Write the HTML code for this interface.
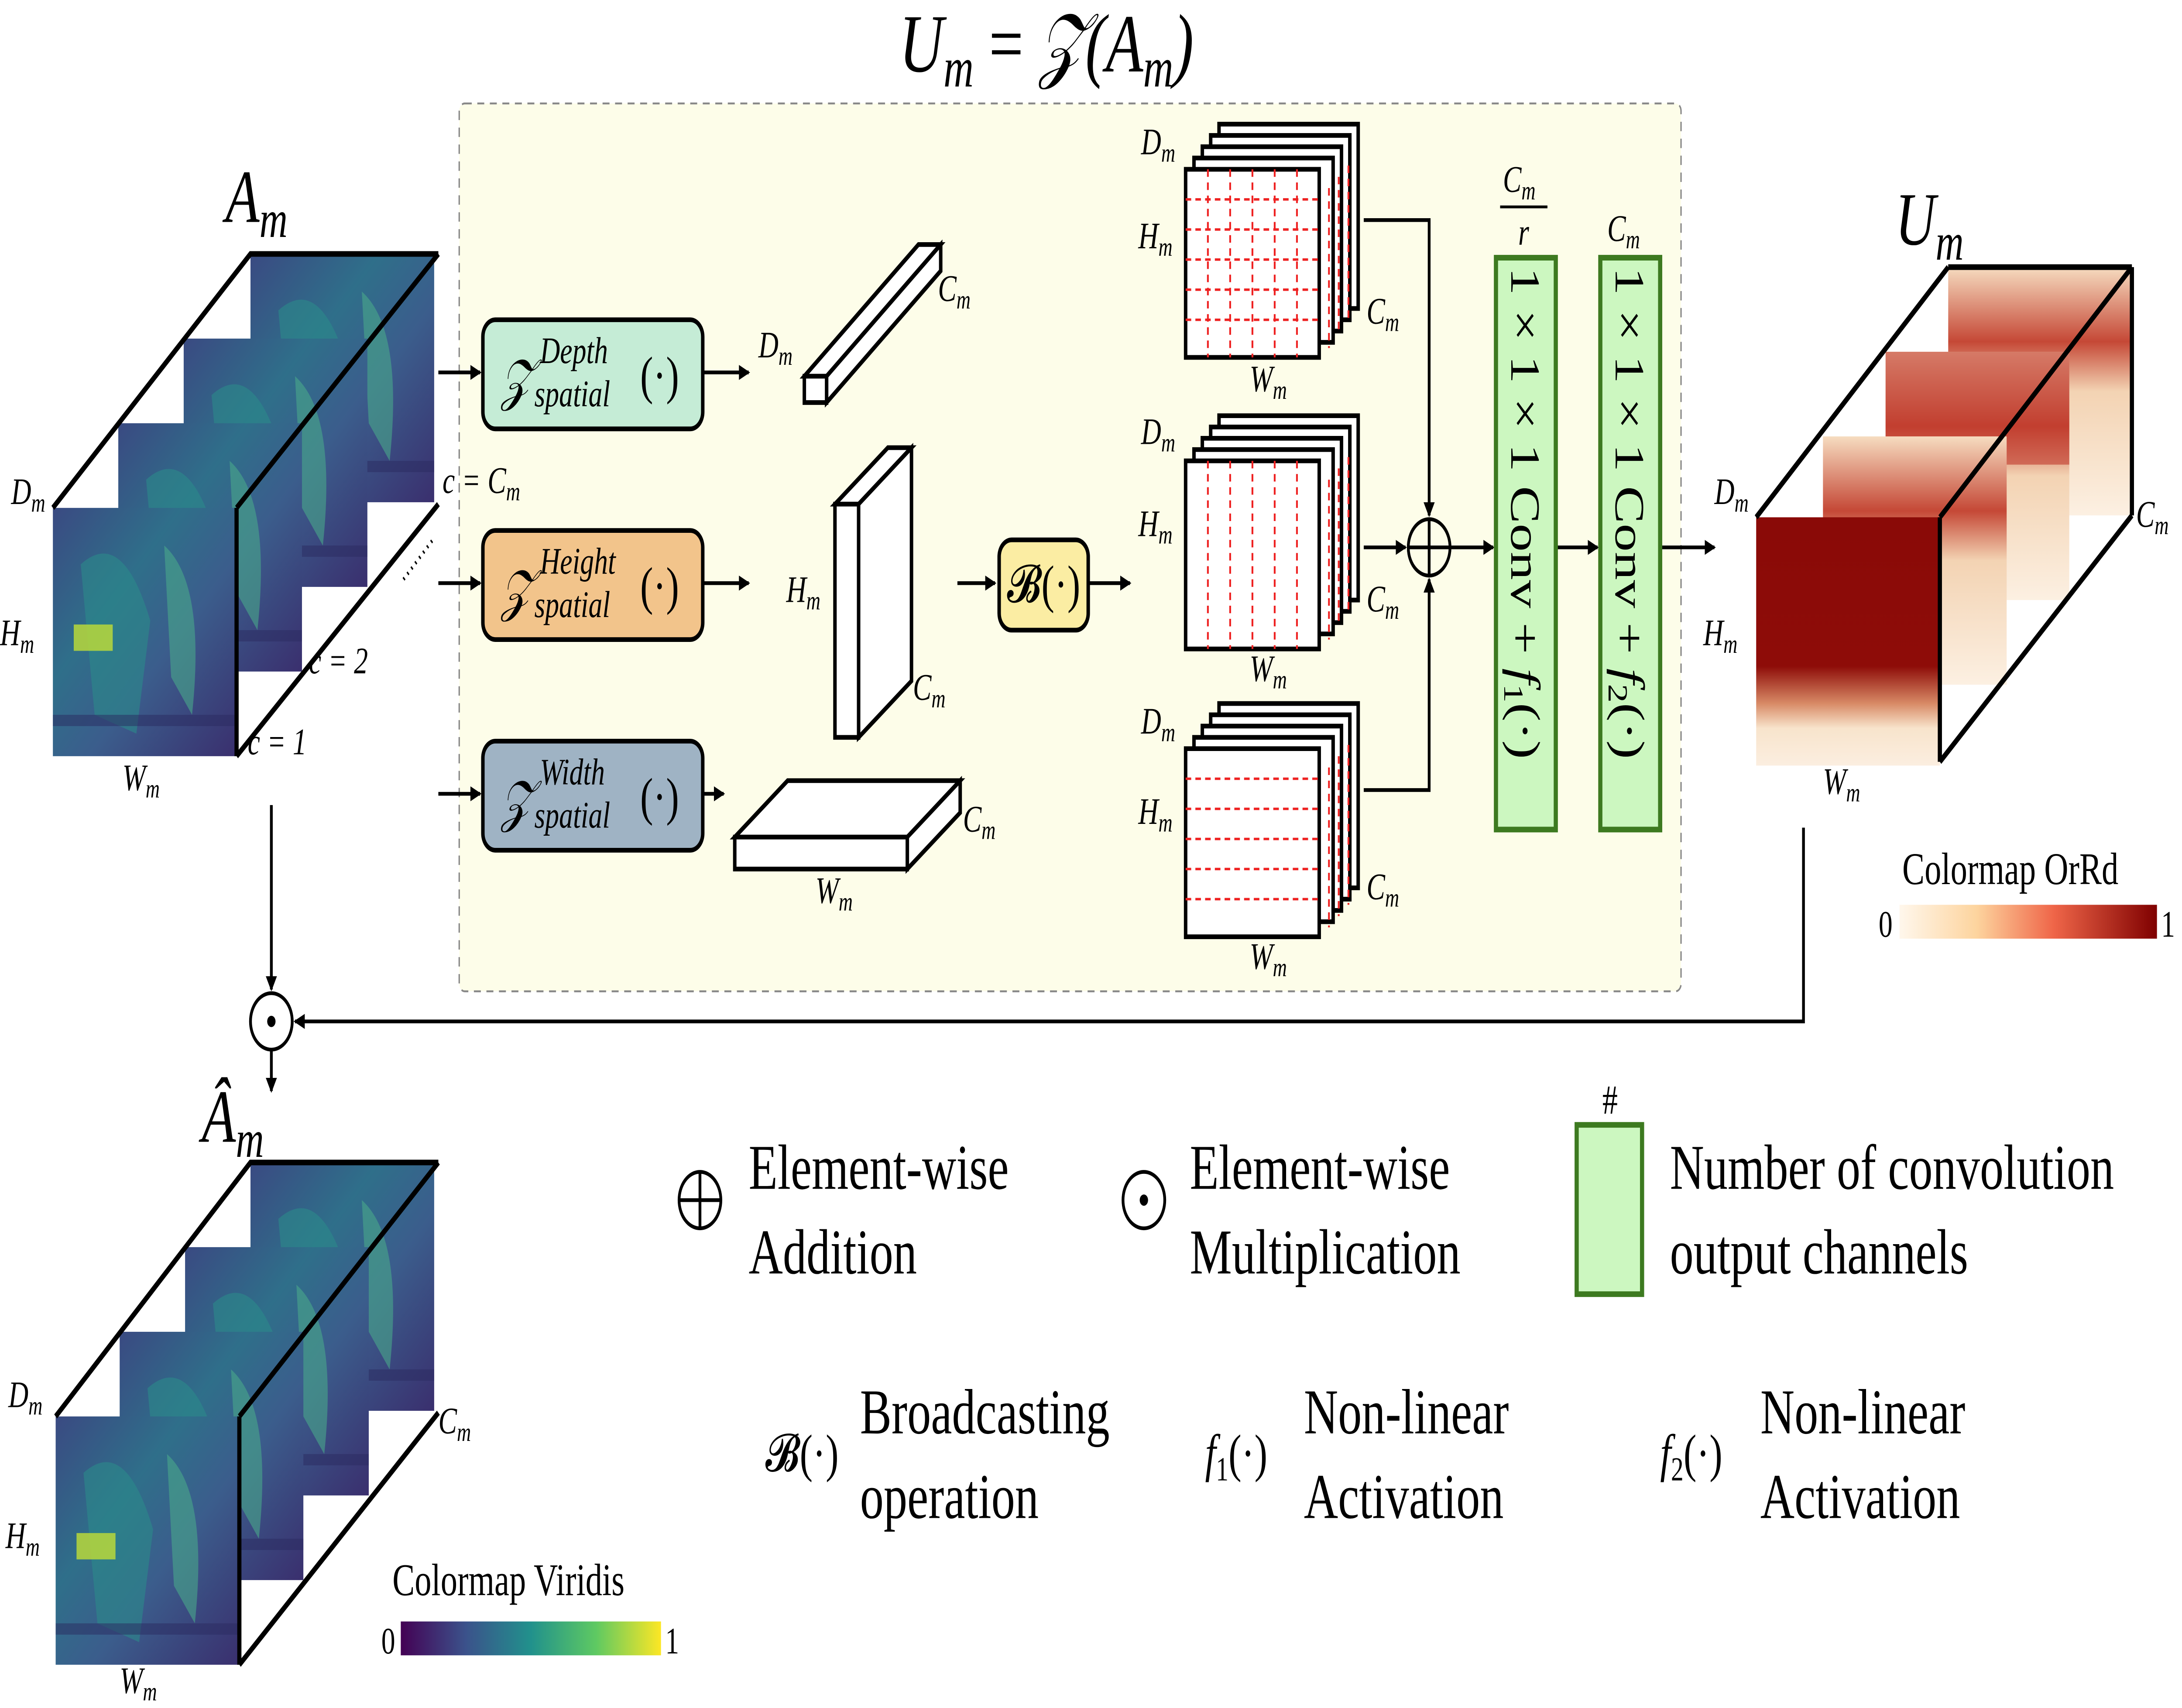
<!DOCTYPE html>
<html><head><meta charset="utf-8"><style>
html,body{margin:0;padding:0;background:#fff;overflow:hidden;width:100vw;height:100vh}
svg{display:block;width:100vw;height:100vh}
text{font-family:"Liberation Serif",serif}
</style></head><body>
<svg viewBox="0 0 1568 908" preserveAspectRatio="none" xmlns="http://www.w3.org/2000/svg">
<defs>
<linearGradient id="vir" x1="0" y1="0" x2="1" y2="1">
<stop offset="0" stop-color="#3a4a82"/><stop offset="0.35" stop-color="#2f6f8a"/><stop offset="0.6" stop-color="#3b5d8c"/><stop offset="1" stop-color="#3a2f6e"/></linearGradient>
<linearGradient id="orr" x1="0" y1="0" x2="0" y2="1">
<stop offset="0" stop-color="#8a0a07"/><stop offset="0.6" stop-color="#8e0c08"/><stop offset="0.75" stop-color="#d88a66"/><stop offset="0.85" stop-color="#f8e4cc"/><stop offset="1" stop-color="#fbeee0"/></linearGradient>
<linearGradient id="orr2" x1="0" y1="0" x2="0" y2="1">
<stop offset="0" stop-color="#f6dcc0"/><stop offset="0.3" stop-color="#c54836"/><stop offset="0.5" stop-color="#f3d3b3"/><stop offset="1" stop-color="#fcf0e2"/></linearGradient>
<linearGradient id="cbv" x1="0" x2="1"><stop offset="0" stop-color="#440154"/><stop offset="0.25" stop-color="#3b528b"/><stop offset="0.5" stop-color="#21918c"/><stop offset="0.75" stop-color="#5ec962"/><stop offset="1" stop-color="#fde725"/></linearGradient>
<linearGradient id="cbo" x1="0" x2="1"><stop offset="0" stop-color="#fff7ec"/><stop offset="0.3" stop-color="#fdd49e"/><stop offset="0.6" stop-color="#ef6548"/><stop offset="1" stop-color="#7f0000"/></linearGradient>
<marker id="ar" markerWidth="8" markerHeight="8" refX="7" refY="4" orient="auto" markerUnits="userSpaceOnUse"><path d="M0,0 L8,4 L0,8 z" fill="#000"/></marker>
<g id="vslice"><rect width="132" height="132" fill="url(#vir)"/><path d="M20,30 Q50,10 70,60 L60,120 L30,110 Z" fill="#2c8a8a" opacity="0.6"/><path d="M80,20 Q110,40 100,110 L85,90 Z" fill="#4aa88a" opacity="0.6"/><rect x="15" y="62" width="28" height="14" fill="#b8d83a" opacity="0.85"/><rect x="0" y="110" width="132" height="6" fill="#2a2a60" opacity="0.5"/></g>
</defs>

<text x="752" y="38" font-size="44" text-anchor="middle" font-style="italic">U<tspan font-size="30" dy="8">m</tspan><tspan dy="-8" font-style="normal"> = </tspan>𝒵(A<tspan font-size="30" dy="8">m</tspan><tspan dy="-8">)</tspan></text>

<rect x="330" y="55" width="878" height="472" rx="4" fill="#fdfde9" stroke="#888" stroke-dasharray="5,4"/>

<use href="#vslice" x="180" y="135"/><use href="#vslice" x="132" y="180"/><use href="#vslice" x="85" y="225"/><use href="#vslice" x="38" y="270"/>
<g stroke="#000" stroke-width="3" fill="none"><path d="M38,270 L180,135 L315,135 M170,270 L315,135 M170,402 L315,268 M170,270 L170,402"/></g>
<text x="162" y="118" font-size="40" font-style="italic">A<tspan font-size="28" dy="8">m</tspan></text>
<g font-size="20" font-style="italic"><text x="8" y="268">D<tspan font-size="14" dy="4">m</tspan></text><text x="0" y="343">H<tspan font-size="14" dy="4">m</tspan></text><text x="88" y="420">W<tspan font-size="14" dy="4">m</tspan></text><text x="318" y="262">c = C<tspan font-size="14" dy="4">m</tspan></text><text x="222" y="358">c = 2</text><text x="178" y="401">c = 1</text></g>
<path d="M290,308 L312,286" stroke="#000" stroke-width="2" stroke-dasharray="1,3"/>

<g stroke="#000" stroke-width="2" marker-end="url(#ar)"><line x1="315" y1="198" x2="345" y2="198"/><line x1="315" y1="310" x2="345" y2="310"/><line x1="315" y1="422" x2="345" y2="422"/>
<line x1="506" y1="198" x2="538" y2="198"/><line x1="506" y1="310" x2="538" y2="310"/><line x1="506" y1="422" x2="520" y2="422"/>
<line x1="688" y1="310" x2="715" y2="310"/><line x1="783" y1="310" x2="812" y2="310"/></g>

<rect x="347" y="170" width="158" height="58" rx="9" fill="#c5ecd6" stroke="#000" stroke-width="2.5"/>
<rect x="347" y="282" width="158" height="58" rx="9" fill="#f2c48b" stroke="#000" stroke-width="2.5"/>
<rect x="347" y="394" width="158" height="58" rx="9" fill="#9fb3c4" stroke="#000" stroke-width="2.5"/>
<g font-style="italic"><text x="360" y="212" font-size="30">𝒵</text><text x="388" y="193" font-size="20">Depth</text><text x="384" y="216" font-size="20">spatial</text><text x="460" y="209" font-size="28" font-style="normal">(·)</text>
<text x="360" y="324" font-size="30">𝒵</text><text x="388" y="305" font-size="20">Height</text><text x="384" y="328" font-size="20">spatial</text><text x="460" y="321" font-size="28" font-style="normal">(·)</text>
<text x="360" y="436" font-size="30">𝒵</text><text x="388" y="417" font-size="20">Width</text><text x="384" y="440" font-size="20">spatial</text><text x="460" y="433" font-size="28" font-style="normal">(·)</text></g>

<g fill="#fff" stroke="#000" stroke-width="2.5">
<path d="M578,200 L660,130 L676,130 L594,200 Z"/><path d="M594,200 L676,130 L676,144 L594,214 Z"/><rect x="578" y="200" width="16" height="14"/>
<path d="M600,268 L638,238 L655,238 L617,268 Z"/><path d="M617,268 L655,238 L655,362 L617,392 Z"/><rect x="600" y="268" width="17" height="124"/>
<path d="M528,445 L566,415 L690,415 L652,445 Z"/><path d="M652,445 L690,415 L690,432 L652,462 Z"/><rect x="528" y="445" width="124" height="17"/>
</g>
<g font-size="20" font-style="italic"><text x="545" y="190">D<tspan font-size="14" dy="4">m</tspan></text><text x="674" y="160">C<tspan font-size="14" dy="4">m</tspan></text><text x="565" y="320">H<tspan font-size="14" dy="4">m</tspan></text><text x="656" y="372">C<tspan font-size="14" dy="4">m</tspan></text><text x="692" y="442">C<tspan font-size="14" dy="4">m</tspan></text><text x="586" y="480">W<tspan font-size="14" dy="4">m</tspan></text></g>

<rect x="718" y="287" width="64" height="48" rx="9" fill="#fbeda3" stroke="#000" stroke-width="2.5"/>
<text x="750" y="320" font-size="28" text-anchor="middle">𝓑(·)</text>

<g stroke="#000" stroke-width="2.5" fill="#fff">
<rect x="876" y="66" width="100" height="98"/><rect x="870" y="72" width="100" height="98"/><rect x="864" y="78" width="100" height="98"/><rect x="858" y="84" width="100" height="98"/><rect x="852" y="90" width="96" height="100"/>
<rect x="876" y="221" width="100" height="98"/><rect x="870" y="227" width="100" height="98"/><rect x="864" y="233" width="100" height="98"/><rect x="858" y="239" width="100" height="98"/><rect x="852" y="245" width="96" height="100"/>
<rect x="876" y="374" width="100" height="98"/><rect x="870" y="380" width="100" height="98"/><rect x="864" y="386" width="100" height="98"/><rect x="858" y="392" width="100" height="98"/><rect x="852" y="398" width="96" height="100"/>
</g>
<g stroke="#e22" stroke-width="1.3" stroke-dasharray="4,3" fill="none">
<path d="M868,90V190M884,90V190M900,90V190M916,90V190M932,90V190M852,106H948M852,122H948M852,138H948M852,154H948M852,170H948"/>
<path d="M868,245V345M884,245V345M900,245V345M916,245V345M932,245V345"/>
<path d="M852,414H948M852,430H948M852,446H948M852,462H948M852,478H948"/>
<path d="M955,100V185M962,94V178M969,88V172M955,255V340M962,249V333M969,243V327M955,408V493M962,402V487M969,396V481"/>
</g>
<g font-size="20" font-style="italic">
<text x="820" y="82">D<tspan font-size="14" dy="4">m</tspan></text><text x="818" y="132">H<tspan font-size="14" dy="4">m</tspan></text><text x="982" y="172">C<tspan font-size="14" dy="4">m</tspan></text><text x="898" y="208">W<tspan font-size="14" dy="4">m</tspan></text>
<text x="820" y="236">D<tspan font-size="14" dy="4">m</tspan></text><text x="818" y="285">H<tspan font-size="14" dy="4">m</tspan></text><text x="982" y="325">C<tspan font-size="14" dy="4">m</tspan></text><text x="898" y="362">W<tspan font-size="14" dy="4">m</tspan></text>
<text x="820" y="390">D<tspan font-size="14" dy="4">m</tspan></text><text x="818" y="438">H<tspan font-size="14" dy="4">m</tspan></text><text x="982" y="478">C<tspan font-size="14" dy="4">m</tspan></text><text x="898" y="515">W<tspan font-size="14" dy="4">m</tspan></text></g>

<g stroke="#000" stroke-width="2" fill="none">
<path d="M980,117 H1027 V274" marker-end="url(#ar)"/><path d="M980,420 H1027 V308" marker-end="url(#ar)"/>
<line x1="980" y1="291" x2="1010" y2="291" marker-end="url(#ar)"/>
<circle cx="1027" cy="291" r="15"/><path d="M1012,291H1042M1027,276V306"/>
<line x1="1042" y1="291" x2="1073" y2="291" marker-end="url(#ar)"/>
<line x1="1118" y1="291" x2="1148" y2="291" marker-end="url(#ar)"/>
<line x1="1193" y1="291" x2="1232" y2="291" marker-end="url(#ar)"/>
</g>
<rect x="1075" y="137" width="43" height="304" fill="#ccf7c0" stroke="#3d7a20" stroke-width="3"/>
<rect x="1150" y="137" width="43" height="304" fill="#ccf7c0" stroke="#3d7a20" stroke-width="3"/>
<text transform="translate(1086,142) rotate(90)" font-size="30">1 × 1 × 1 Conv + <tspan font-style="italic">f</tspan><tspan font-size="20" dy="5">1</tspan><tspan dy="-5">(·)</tspan></text>
<text transform="translate(1161,142) rotate(90)" font-size="30">1 × 1 × 1 Conv + <tspan font-style="italic">f</tspan><tspan font-size="20" dy="5">2</tspan><tspan dy="-5">(·)</tspan></text>
<g font-size="20" font-style="italic"><text x="1080" y="102">C<tspan font-size="14" dy="4">m</tspan></text><line x1="1078" y1="110" x2="1112" y2="110" stroke="#000" stroke-width="1.5"/><text x="1091" y="130">r</text><text x="1155" y="128">C<tspan font-size="14" dy="4">m</tspan></text></g>

<rect x="1400" y="142" width="132" height="132" fill="url(#orr2)"/>
<rect x="1355" y="187" width="132" height="132" fill="url(#orr2)"/><rect x="1355" y="187" width="132" height="60" fill="#c0392b" opacity="0.6"/>
<rect x="1310" y="232" width="132" height="132" fill="url(#orr2)"/>
<rect x="1262" y="275" width="132" height="132" fill="url(#orr)"/>
<g stroke="#000" stroke-width="3" fill="none"><path d="M1262,275 L1400,142 M1394,275 L1532,142 M1394,405 L1532,274 M1532,142 V274 M1394,275 V405 M1400,142 H1532"/></g>
<text x="1362" y="130" font-size="40" font-style="italic">U<tspan font-size="28" dy="8">m</tspan></text>
<g font-size="20" font-style="italic"><text x="1232" y="268">D<tspan font-size="14" dy="4">m</tspan></text><text x="1224" y="343">H<tspan font-size="14" dy="4">m</tspan></text><text x="1310" y="422">W<tspan font-size="14" dy="4">m</tspan></text><text x="1535" y="280">C<tspan font-size="14" dy="4">m</tspan></text></g>
<text x="1367" y="470" font-size="24">Colormap OrRd</text>
<rect x="1365" y="481" width="185" height="18" fill="url(#cbo)"/>
<text x="1350" y="498" font-size="20">0</text><text x="1553" y="498" font-size="20">1</text>

<g stroke="#000" stroke-width="2" fill="none">
<path d="M1296,440 V543 H212" marker-end="url(#ar)"/>
<line x1="195" y1="428" x2="195" y2="526" marker-end="url(#ar)"/>
<circle cx="195" cy="543" r="15"/>
<line x1="195" y1="558" x2="195" y2="580" marker-end="url(#ar)"/>
</g>
<circle cx="195" cy="543" r="3" fill="#000"/>
<text x="145" y="607" font-size="40" font-style="italic">Â<tspan font-size="28" dy="8">m</tspan></text>

<use href="#vslice" x="180" y="618"/><use href="#vslice" x="133" y="663"/><use href="#vslice" x="86" y="708"/><use href="#vslice" x="40" y="753"/>
<g stroke="#000" stroke-width="3" fill="none"><path d="M40,753 L180,618 L315,618 M172,753 L315,618 M172,885 L315,751 M172,753 L172,885"/></g>
<g font-size="20" font-style="italic"><text x="6" y="748">D<tspan font-size="14" dy="4">m</tspan></text><text x="4" y="823">H<tspan font-size="14" dy="4">m</tspan></text><text x="86" y="900">W<tspan font-size="14" dy="4">m</tspan></text><text x="315" y="762">C<tspan font-size="14" dy="4">m</tspan></text></g>
<text x="282" y="848" font-size="24">Colormap Viridis</text>
<rect x="288" y="862" width="187" height="18" fill="url(#cbv)"/>
<text x="274" y="879" font-size="20">0</text><text x="478" y="879" font-size="20">1</text>

<g stroke="#000" stroke-width="2" fill="none"><circle cx="503" cy="638" r="15"/><path d="M488,638H518M503,623V653"/><circle cx="822" cy="638" r="15"/></g>
<circle cx="822" cy="638" r="3" fill="#000"/>
<g font-size="34"><text x="538" y="632">Element-wise</text><text x="538" y="677">Addition</text>
<text x="855" y="632">Element-wise</text><text x="855" y="677">Multiplication</text>
<text x="1200" y="632">Number of convolution</text><text x="1200" y="677">output channels</text>
<text x="618" y="762">Broadcasting</text><text x="618" y="807">operation</text>
<text x="937" y="762">Non-linear</text><text x="937" y="807">Activation</text>
<text x="1265" y="762">Non-linear</text><text x="1265" y="807">Activation</text></g>
<rect x="1133" y="598" width="47" height="90" fill="#ccf7c0" stroke="#3d7a20" stroke-width="3"/>
<text x="1157" y="592" font-size="22" text-anchor="middle">#</text>
<g font-size="28"><text x="550" y="782">𝓑(·)</text><text x="866" y="782"><tspan font-style="italic">f</tspan><tspan font-size="18" dy="5">1</tspan><tspan dy="-5">(·)</tspan></text><text x="1193" y="782"><tspan font-style="italic">f</tspan><tspan font-size="18" dy="5">2</tspan><tspan dy="-5">(·)</tspan></text></g>
</svg>
</body></html>
